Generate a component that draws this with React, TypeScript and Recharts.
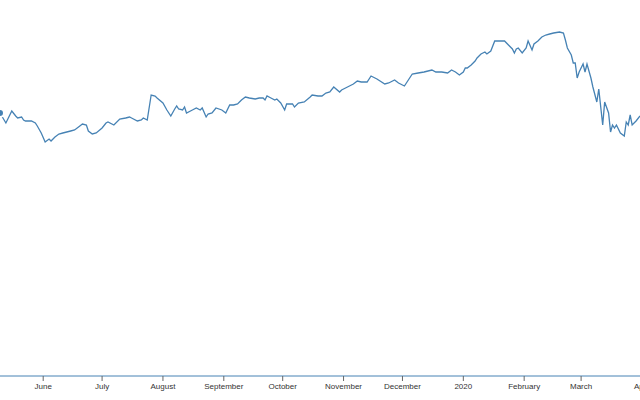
import { LineChart, Line, XAxis, YAxis } from 'recharts';

const dates = [
  '2019-05-10', '2019-05-13', '2019-05-16', '2019-05-18', '2019-05-19', '2019-05-21', '2019-05-22', '2019-05-23',
  '2019-05-26', '2019-05-28', '2019-05-29', '2019-05-31', '2019-06-02', '2019-06-04', '2019-06-05', '2019-06-07',
  '2019-06-09', '2019-06-11', '2019-06-13', '2019-06-15', '2019-06-17', '2019-06-19', '2019-06-21', '2019-06-23',
  '2019-06-24', '2019-06-26', '2019-06-28', '2019-07-01', '2019-07-03', '2019-07-04', '2019-07-07', '2019-07-10',
  '2019-07-13', '2019-07-15', '2019-07-16', '2019-07-19', '2019-07-21', '2019-07-22', '2019-07-24', '2019-07-26',
  '2019-07-28', '2019-07-29', '2019-08-01', '2019-08-03', '2019-08-05', '2019-08-07', '2019-08-08', '2019-08-09',
  '2019-08-11', '2019-08-12', '2019-08-13', '2019-08-16', '2019-08-18', '2019-08-20', '2019-08-21', '2019-08-23',
  '2019-08-24', '2019-08-26', '2019-08-28', '2019-08-31', '2019-09-02', '2019-09-04', '2019-09-06', '2019-09-08',
  '2019-09-10', '2019-09-12', '2019-09-14', '2019-09-17', '2019-09-19', '2019-09-21', '2019-09-22', '2019-09-23',
  '2019-09-25', '2019-09-27', '2019-09-28', '2019-09-30', '2019-10-02', '2019-10-03', '2019-10-06', '2019-10-07',
  '2019-10-09', '2019-10-12', '2019-10-15', '2019-10-16', '2019-10-19', '2019-10-21', '2019-10-23', '2019-10-25',
  '2019-10-27', '2019-10-30', '2019-10-31', '2019-11-03', '2019-11-06', '2019-11-08', '2019-11-10', '2019-11-13',
  '2019-11-15', '2019-11-16', '2019-11-18', '2019-11-22', '2019-11-24', '2019-11-27', '2019-11-29', '2019-12-02',
  '2019-12-04', '2019-12-06', '2019-12-09', '2019-12-12', '2019-12-16', '2019-12-18', '2019-12-21', '2019-12-24',
  '2019-12-26', '2019-12-28', '2019-12-30', '2020-01-01', '2020-01-02', '2020-01-03', '2020-01-05', '2020-01-07',
  '2020-01-08', '2020-01-10', '2020-01-12', '2020-01-13', '2020-01-15', '2020-01-17', '2020-01-19', '2020-01-22',
  '2020-01-24', '2020-01-26', '2020-01-27', '2020-01-28', '2020-01-29', '2020-01-31', '2020-02-02', '2020-02-03',
  '2020-02-05', '2020-02-06', '2020-02-08', '2020-02-10', '2020-02-12', '2020-02-14', '2020-02-16', '2020-02-19',
  '2020-02-21', '2020-02-22', '2020-02-23', '2020-02-25', '2020-02-26', '2020-02-27', '2020-02-28', '2020-02-29',
  '2020-03-02', '2020-03-03', '2020-03-04', '2020-03-06', '2020-03-07', '2020-03-09', '2020-03-10', '2020-03-12',
  '2020-03-13', '2020-03-15', '2020-03-16', '2020-03-17', '2020-03-18', '2020-03-19', '2020-03-21', '2020-03-23',
  '2020-03-24', '2020-03-25', '2020-03-26', '2020-03-27', '2020-03-29', '2020-03-31',
];

const values = [
  2630, 2530, 2650, 2600, 2580, 2590, 2560, 2550,
  2550, 2530, 2500, 2430, 2340, 2370, 2350, 2390,
  2420, 2430, 2440, 2450, 2460, 2490, 2520, 2510,
  2450, 2420, 2430, 2480, 2530, 2540, 2510, 2570,
  2580, 2590, 2580, 2550, 2560, 2580, 2560, 2810,
  2800, 2780, 2730, 2660, 2600, 2670, 2700, 2670,
  2660, 2690, 2630, 2660, 2680, 2660, 2680, 2590,
  2620, 2630, 2680, 2660, 2630, 2710, 2710, 2720,
  2760, 2790, 2780, 2770, 2780, 2780, 2760, 2800,
  2780, 2760, 2770, 2730, 2660, 2720, 2720, 2690,
  2730, 2740, 2790, 2810, 2800, 2800, 2830, 2840,
  2890, 2840, 2860, 2890, 2920, 2950, 2940, 2940,
  3000, 2990, 2970, 2920, 2930, 2960, 2930, 2900,
  2960, 3020, 3030, 3040, 3060, 3040, 3040, 3030,
  3060, 3040, 3010, 3040, 3080, 3080, 3110, 3150,
  3180, 3220, 3240, 3220, 3250, 3350, 3350, 3350,
  3310, 3270, 3230, 3270, 3280, 3230, 3280, 3350,
  3260, 3320, 3350, 3390, 3410, 3420, 3430, 3440,
  3430, 3360, 3280, 3210, 3130, 3130, 2980, 3040,
  3120, 3040, 3120, 2980, 2890, 2740, 2870, 2510,
  2740, 2630, 2440, 2510, 2480, 2510, 2430, 2400,
  2540, 2510, 2610, 2510, 2550, 2600,
];

const tickDates = [
  '2019-06-01', '2019-07-01', '2019-08-01', '2019-09-01', '2019-10-01', '2019-11-01',
  '2019-12-01', '2020-01-01', '2020-02-01', '2020-03-01', '2020-04-01',
];
const tickLabels = [
  'June', 'July', 'August', 'September', 'October', 'November',
  'December', '2020', 'February', 'March', 'April',
];

const toTime = (d: string) => new Date(d + 'T00:00:00Z').getTime();

const data = dates.map((d, i) => ({ t: toTime(d), value: values[i] }));
const ticks = tickDates.map(toTime);

const formatTick = (t: number) => {
  const i = ticks.indexOf(t);
  return i >= 0 ? tickLabels[i] : '';
};

const App = () => {
  return (
    <div style={{ position: 'absolute', left: 0, top: 0 }}>
      <LineChart width={640} height={400} data={data} margin={{ top: 0, right: 0, bottom: 0, left: 0 }}>
        <XAxis
          dataKey="t"
          type="number"
          domain={['dataMin', 'dataMax']}
          allowDataOverflow
          ticks={ticks}
          interval={0}
          tickFormatter={formatTick}
          height={24}
          tickSize={5}
          tickMargin={2}
          tick={{ fontSize: 8, fill: '#333', fontFamily: '"Liberation Sans", Arial, sans-serif' }}
          axisLine={{ stroke: '#4682b4' }}
          tickLine={{ stroke: '#666' }}
        />
        <YAxis hide domain={[0, 3760]} />
        <Line
          type="linear"
          dataKey="value"
          stroke="#4682b4"
          strokeWidth={1.3}
          dot={false}
          isAnimationActive={false}
        />
      </LineChart>
    </div>
  );
};

export default App;
